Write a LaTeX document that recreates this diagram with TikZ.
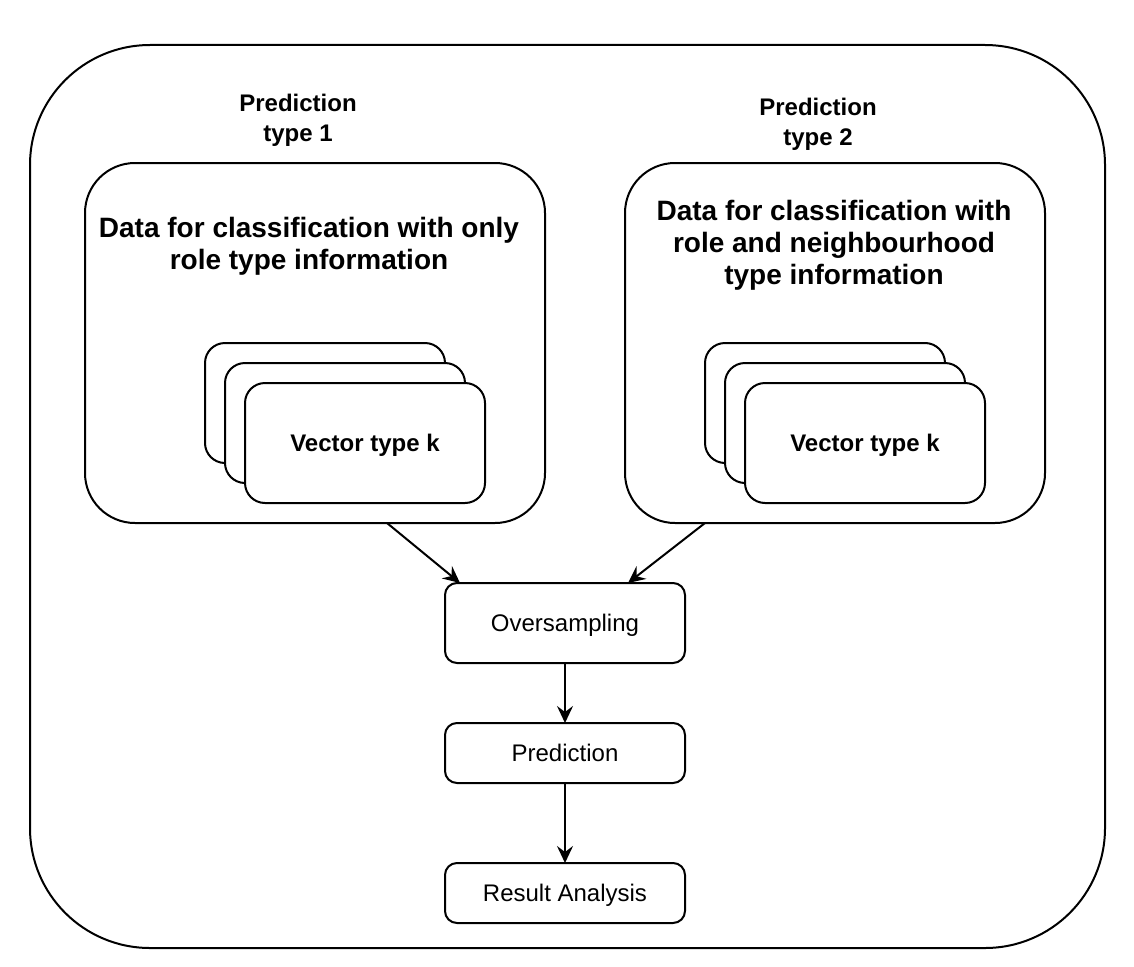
\documentclass[tikz,border=0pt]{standalone}
\usepackage{fontspec}
\setmainfont{Liberation Sans}
\usetikzlibrary{arrows.meta}
\tikzset{
  every node/.style={inner sep=0pt, outer sep=0pt},
  lw/.style={line width=2pt},
  outerbox/.style={lw, draw, rounded corners=120pt, minimum width=1075pt, minimum height=903pt},
  groupbox/.style={lw, draw, fill=white, rounded corners=50pt, minimum width=460pt, minimum height=360pt},
  card/.style={lw, draw, fill=white, rounded corners=20pt, minimum width=240pt, minimum height=120pt, text depth=0pt, font=\fontsize{24}{29}\selectfont\bfseries},
  stepbox/.style={lw, draw, fill=white, rounded corners=12pt, minimum width=240pt, text depth=0pt, font=\fontsize{24}{29}\selectfont},
  lbl/.style={align=center, font=\fontsize{24}{30}\selectfont\bfseries},
  title/.style={align=center, font=\fontsize{28}{32}\selectfont\bfseries},
  arr/.style={lw, -{Stealth[length=17pt,width=16pt,inset=6pt]}}
}
\begin{document}
\begin{tikzpicture}[x=1pt,y=-1pt]
\useasboundingbox (0,0) rectangle (1134,966);
\node[outerbox] (outer) at (567.5,496.5) {};
% group 1
\node[lbl] (pt1) at (298,120.5) {Prediction\\type 1};
\node[groupbox] (box1) at (315,343) {};
\node[title] (t1) at (309,246) {Data for classification with only\\role type information};
\node[card] (c1a) at (325,403) {};
\node[card] (c1b) at (345,423) {};
\node[card] (c1c) at (365,443) {Vector type k};
% group 2
\node[lbl] (pt2) at (818,124.5) {Prediction\\type 2};
\node[groupbox, minimum width=420pt] (box2) at (835,343) {};
\node[title] (t2) at (834,245) {Data for classification with\\role and neighbourhood\\type information};
\node[card] (c2a) at (825,403) {};
\node[card] (c2b) at (845,423) {};
\node[card] (c2c) at (865,443) {Vector type k};
% flow
\node[stepbox, minimum height=80pt] (over) at (565,623) {Oversampling};
\node[stepbox, minimum height=60pt] (pred) at (565,753) {Prediction};
\node[stepbox, minimum height=60pt] (res) at (565,893) {Result Analysis};
\draw[arr] ([xshift=72pt]box1.south) -- ([xshift=-105pt]over.north);
\draw[arr] ([xshift=-130pt]box2.south) -- ([xshift=63pt]over.north);
\draw[arr] (over.south) -- (pred.north);
\draw[arr] (pred.south) -- (res.north);
\end{tikzpicture}
\end{document}
